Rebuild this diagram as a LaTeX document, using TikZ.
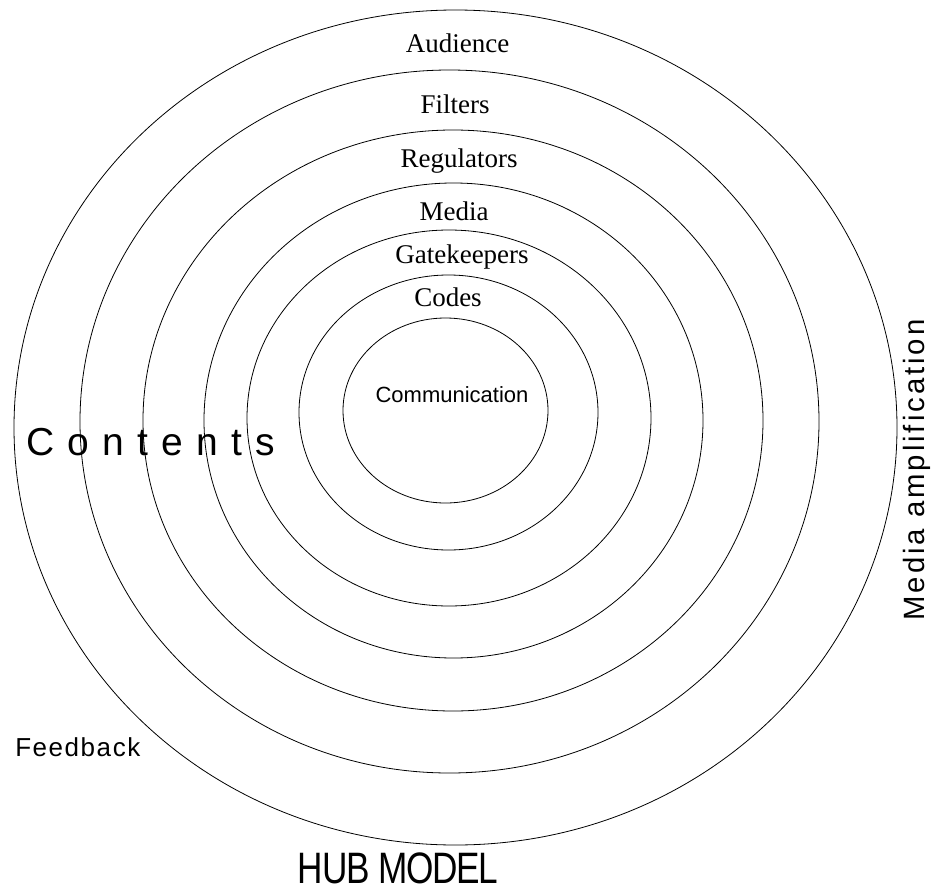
\documentclass[tikz,border=0pt]{standalone}
\usepackage{fontspec}
\setmainfont{Liberation Serif}
\newfontfamily\arial{Liberation Sans}
\newfontfamily\arialwide[LetterSpace=34]{Liberation Sans}
\newfontfamily\arialfb[LetterSpace=6]{Liberation Sans}
\newfontfamily\arialma[LetterSpace=10]{Liberation Sans}
\newfontfamily\arialhub[FakeStretch=0.8,LetterSpace=-3]{Liberation Sans}
\begin{document}
\begin{tikzpicture}[x=0.75pt,y=-0.75pt,
  ring/.style={draw=black,line width=0.6pt},
  layer/.style={inner sep=0pt,anchor=base,font=\fontsize{20.25pt}{24pt}\selectfont},
  side/.style={inner sep=0pt}]
\useasboundingbox (0,0) rectangle (933,896);
% concentric rings
\draw[ring] (455.5,427.5) ellipse [x radius=441.5, y radius=417.5];
\draw[ring] (449.5,421.5) ellipse [x radius=369.5, y radius=351.5];
\draw[ring] (453,420.5) ellipse [x radius=310, y radius=290.5];
\draw[ring] (453.5,420.5) ellipse [x radius=249.5, y radius=237.5];
\draw[ring] (449,418) ellipse [x radius=202, y radius=188];
\draw[ring] (448.5,412.5) ellipse [x radius=149.5, y radius=137.5];
\draw[ring] (445.5,410.5) ellipse [x radius=102.5, y radius=92.5];
% layer labels
\node[layer] (audience) at (457.5,52) {Audience};
\node[layer] (filters) at (455,113) {Filters};
\node[layer] (regulators) at (459,167) {Regulators};
\node[layer] (media) at (454,220) {Media};
\node[layer] (gatekeepers) at (462,263) {Gatekeepers};
\node[layer] (codes) at (448,306) {Codes};
\node[side,anchor=base,font=\arial\fontsize{16.5pt}{20pt}\selectfont] (communication) at (452,402) {Communication};
% side labels
\node[side,anchor=base west,font=\arialwide\fontsize{29.25pt}{34pt}\selectfont] (contents) at (26,455) {Contents};
\node[side,anchor=base west,font=\arialfb\fontsize{19.5pt}{24pt}\selectfont] (feedback) at (15,756) {Feedback};
\node[side,anchor=base,rotate=90,font=\arialma\fontsize{22pt}{26pt}\selectfont] (amplification) at (924,470) {Media amplification};
\node[side,anchor=base,font=\arialhub\fontsize{33pt}{36pt}\selectfont] (hub) at (398,883) {HUB MODEL};
\end{tikzpicture}
\end{document}
